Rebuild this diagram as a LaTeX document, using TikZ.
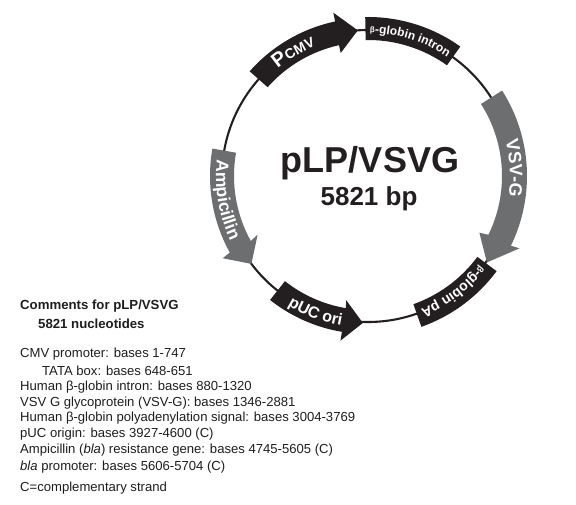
\documentclass[tikz,border=0pt]{standalone}
\usepackage{fontspec}
\setmainfont{Liberation Sans}
\usepackage{xcolor}
\usepackage{tikz}
\usetikzlibrary{decorations.text}
\definecolor{mapblack}{RGB}{35,31,32}
\definecolor{mapgray}{RGB}{109,110,112}
\definecolor{listtext}{RGB}{30,30,30}
\newcommand{\lblfont}[1]{\color{white}\bfseries\fontsize{#1}{#1}\selectfont}

\begin{document}
\begin{tikzpicture}[
  x=1pt,y=1pt,
  blackpart/.style={fill=mapblack},
  graypart/.style={fill=mapgray},
  arclabel/.style={postaction={decorate,decoration={text along path,
    text align=center,text={#1}}}},
  listline/.style={anchor=west,inner sep=0pt,font=\fontsize{13.1}{14}\selectfont,
    text=listtext},
  listhead/.style={anchor=west,inner sep=0pt,font=\fontsize{13.2}{14}\selectfont\bfseries,
    text=listtext}
]
  \useasboundingbox (0,0) rectangle (576,-505);
  \fill[white] (0,0) rectangle (576,-505);

  \begin{scope}[shift={(368,-176)}]
    % backbone
    \draw[mapblack,line width=2.1pt] (0,0) circle[radius=146];

    % CMV promoter
    \fill[blackpart] (138.5:158) arc[start angle=138.5,end angle=102,radius=158]
      -- (102:167) -- (94:146) -- (102.5:126) -- (102.5:134)
      arc[start angle=102.5,end angle=138.5,radius=134] -- cycle;
    % intron
    \fill[blackpart] (91:159) arc[start angle=91,end angle=54.5,radius=159]
      -- (54.5:136) arc[start angle=54.5,end angle=91,radius=136] -- cycle;
    % VSV-G
    \fill[graypart] (32.5:159) arc[start angle=32.5,end angle=-26,radius=159]
      -- (-25.5:168) -- (-36:147) -- (-27:125) -- (-26:134)
      arc[start angle=-26,end angle=32.5,radius=134] -- cycle;
    % globin pA
    \fill[blackpart] (-36.5:160) arc[start angle=-36.5,end angle=-70.5,radius=160]
      -- (-70.5:136) arc[start angle=-70.5,end angle=-36.5,radius=136] -- cycle;
    % pUC ori
    \fill[blackpart] (231.7:158) arc[start angle=231.7,end angle=260.5,radius=158]
      -- (260.5:167) -- (268:147) -- (260:126) -- (260.5:134)
      arc[start angle=260.5,end angle=231.7,radius=134] -- cycle;
    % Ampicillin
    \fill[graypart] (170:158) arc[start angle=170,end angle=209,radius=158]
      -- (209.5:167) -- (217:146) -- (208:125) -- (209:134)
      arc[start angle=209,end angle=170,radius=134] -- cycle;

    % labels on the arcs
    \path[arclabel={|\lblfont{20}|P|\lblfont{14}|CMV}]
      (139:140) arc[start angle=139,end angle=103,radius=140];
    \path[arclabel={|\lblfont{8}|β|\lblfont{12}|-globin intron}]
      (91:143) arc[start angle=91,end angle=54.5,radius=143];
    \path[arclabel={|\lblfont{18}|VSV-G}]
      (32:142) arc[start angle=32,end angle=-26,radius=142];
    \path[arclabel={|\lblfont{9}|β|\lblfont{14}|-globin pA}]
      (-36.5:143) arc[start angle=-36.5,end angle=-70.5,radius=143];
    \path[arclabel={|\lblfont{16}|pUC ori}]
      (232:152) arc[start angle=232,end angle=266,radius=152];
    \path[arclabel={|\lblfont{17.5}|Ampicillin}]
      (170:152) arc[start angle=170,end angle=209,radius=152];
  \end{scope}

  \node[font=\fontsize{36}{36}\selectfont\bfseries,text=mapblack] (plasmid) at (370,-163) {pLP/VSVG};
  \node[font=\fontsize{26}{26}\selectfont\bfseries,text=mapblack] (length) at (369,-198.5) {5821 bp};

  \node[listhead] (comments) at (20,-306.5) {Comments for pLP/VSVG};
  \node[listhead] (nucleotides) at (38,-323.5) {5821 nucleotides};
  \node[listline] (cmv) at (20,-354.5) {CMV promoter: bases 1-747};
  \node[listline] (tata) at (42,-371) {TATA box: bases 648-651};
  \node[listline] (intron) at (20,-387) {Human β-globin intron: bases 880-1320};
  \node[listline] (vsvg) at (20,-403) {VSV G glycoprotein (VSV-G): bases 1346-2881};
  \node[listline] (polya) at (20,-418.5) {Human β-globin polyadenylation signal: bases 3004-3769};
  \node[listline] (puc) at (20,-434.5) {pUC origin: bases 3927-4600 (C)};
  \node[listline] (amp) at (20,-450.5) {Ampicillin (\textit{bla}) resistance gene: bases 4745-5605 (C)};
  \node[listline] (bla) at (20,-467) {\textit{bla} promoter: bases 5606-5704 (C)};
  \node[listline] (strand) at (20,-488) {C=complementary strand};
\end{tikzpicture}
\end{document}
